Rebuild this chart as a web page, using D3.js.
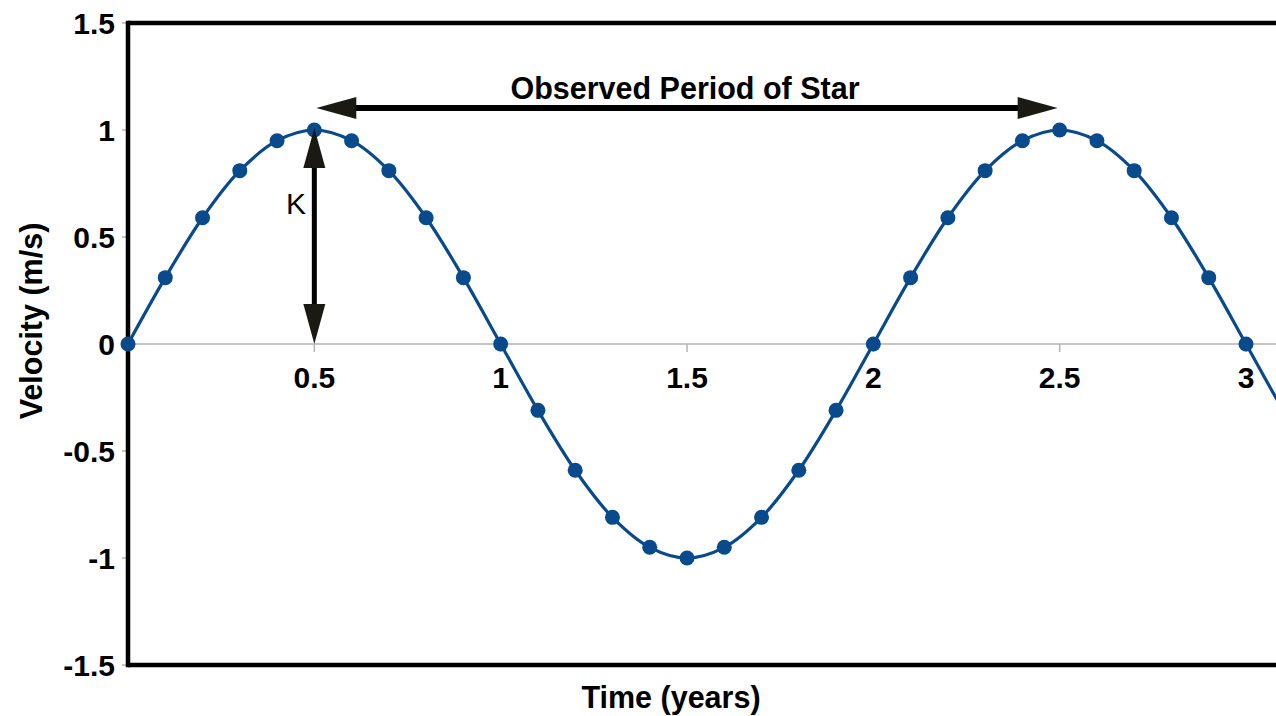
<!DOCTYPE html>
<html><head><meta charset="utf-8">
<script src="https://cdn.jsdelivr.net/npm/d3@7"></script>
<style>body{margin:0;background:#fff}svg{display:block;font-family:"Liberation Sans",Arial,sans-serif}</style>
</head><body>
<svg id="c" width="1276" height="716"></svg>
<script>
const times = [0,0.1,0.2,0.3,0.4,0.5,0.6,0.7,0.8,0.9,1,1.1,1.2,1.3,1.4,1.5,1.6,1.7,1.8,1.9,2,2.1,2.2,2.3,2.4,2.5,2.6,2.7,2.8,2.9,3];
const velocities = [0,0.31,0.59,0.81,0.95,1,0.95,0.81,0.59,0.31,0,-0.31,-0.59,-0.81,-0.95,-1,-0.95,-0.81,-0.59,-0.31,0,0.31,0.59,0.81,0.95,1,0.95,0.81,0.59,0.31,0];
const lineTimes = [...times, 3.1, 3.2];
const lineVelocities = [...velocities, -0.31, -0.59];
const xTicks = [0.5,1,1.5,2,2.5,3];
const yTicks = [1.5,1,0.5,0,-0.5,-1,-1.5];

const svg = d3.select("#c");
const x = d3.scaleLinear().domain([0,3]).range([128,1246]);
const y = d3.scaleLinear().domain([-1.5,1.5]).range([665,23]);
const W = 1276;
const fmt = v => String(v);

svg.append("defs").append("clipPath").attr("id","clip")
  .append("rect").attr("x",x(0)).attr("y",y(1.5)).attr("width",W-x(0)).attr("height",y(-1.5)-y(1.5));

// zero line
svg.append("line").attr("x1",x(0)).attr("x2",W).attr("y1",y(0)).attr("y2",y(0))
  .attr("stroke","#b3b3b3").attr("stroke-width",1.5);

// y ticks
const yAx = svg.append("g");
yTicks.forEach(t=>{
  yAx.append("line").attr("x1",x(0)-6).attr("x2",x(0)).attr("y1",y(t)).attr("y2",y(t)).attr("stroke","#b3b3b3").attr("stroke-width",1.5);
  yAx.append("text").attr("x",x(0)-13).attr("y",y(t)).attr("dy","0.36em").attr("text-anchor","end")
    .attr("font-size",30).attr("font-weight","bold").attr("fill","#000").text(fmt(t));
});
// x ticks
xTicks.forEach(t=>{
  svg.append("line").attr("x1",x(t)).attr("x2",x(t)).attr("y1",y(0)).attr("y2",y(0)+8).attr("stroke","#b3b3b3").attr("stroke-width",1.5);
  svg.append("text").attr("x",x(t)).attr("y",y(0)+44).attr("text-anchor","middle")
    .attr("font-size",30).attr("font-weight","bold").attr("fill","#000").text(fmt(t));
});

// border lines
svg.append("line").attr("x1",x(0)).attr("x2",W).attr("y1",y(1.5)).attr("y2",y(1.5)).attr("stroke","#000").attr("stroke-width",4.5);
svg.append("line").attr("x1",x(0)).attr("x2",W).attr("y1",y(-1.5)).attr("y2",y(-1.5)).attr("stroke","#000").attr("stroke-width",4.5);
svg.append("line").attr("x1",x(0)).attr("x2",x(0)).attr("y1",y(1.5)-2.25).attr("y2",y(-1.5)+2.25).attr("stroke","#000").attr("stroke-width",4.5);

// curve
const pts = lineTimes.map((t,i)=>[t,lineVelocities[i]]);
svg.append("path").attr("clip-path","url(#clip)")
  .attr("d",d3.line().x(d=>x(d[0])).y(d=>y(d[1])).curve(d3.curveCatmullRom.alpha(0.5))(pts))
  .attr("fill","none").attr("stroke","#084a8c").attr("stroke-width",3.2);

svg.append("g").selectAll("circle").data(times.map((t,i)=>[t,velocities[i]])).join("circle")
  .attr("cx",d=>x(d[0])).attr("cy",d=>y(d[1])).attr("r",7.5).attr("fill","#084a8c");

// arrows
const ac = "#1a1a12";
function arrowHead(tx,ty,dir){
  const L=40,H=11;
  let p;
  if(dir==='l') p=[[tx,ty],[tx+L,ty-H],[tx+L,ty+H]];
  if(dir==='r') p=[[tx,ty],[tx-L,ty-H],[tx-L,ty+H]];
  if(dir==='u') p=[[tx,ty],[tx-H,ty+L],[tx+H,ty+L]];
  if(dir==='d') p=[[tx,ty],[tx-H,ty-L],[tx+H,ty-L]];
  svg.append("path").attr("d","M"+p.map(q=>q.join(",")).join("L")+"Z").attr("fill",ac);
}
const ay = 108;
svg.append("line").attr("x1",x(0.5)+30).attr("x2",x(2.5)-30).attr("y1",ay).attr("y2",ay).attr("stroke","#000").attr("stroke-width",6);
arrowHead(x(0.5)+2,ay,'l');
arrowHead(x(2.5)-2,ay,'r');
svg.append("line").attr("x1",x(0.5)).attr("x2",x(0.5)).attr("y1",y(1)+30).attr("y2",y(0)-30).attr("stroke","#000").attr("stroke-width",5);
arrowHead(x(0.5),y(1)-2,'u');
arrowHead(x(0.5),y(0),'d');

svg.append("text").attr("x",685).attr("y",99).attr("text-anchor","middle")
  .attr("font-size",30.5).attr("font-weight","bold").attr("fill","#000").text("Observed Period of Star");
svg.append("text").attr("x",296).attr("y",214).attr("text-anchor","middle")
  .attr("font-size",30).attr("fill","#000").text("K");

// axis titles
svg.append("text").attr("x",671).attr("y",708).attr("text-anchor","middle")
  .attr("font-size",30.5).attr("font-weight","bold").attr("fill","#000").text("Time (years)");
svg.append("text").attr("transform",`translate(42,321) rotate(-90)`).attr("text-anchor","middle")
  .attr("font-size",30.5).attr("font-weight","bold").attr("fill","#000").text("Velocity (m/s)");
</script>
</body></html>
